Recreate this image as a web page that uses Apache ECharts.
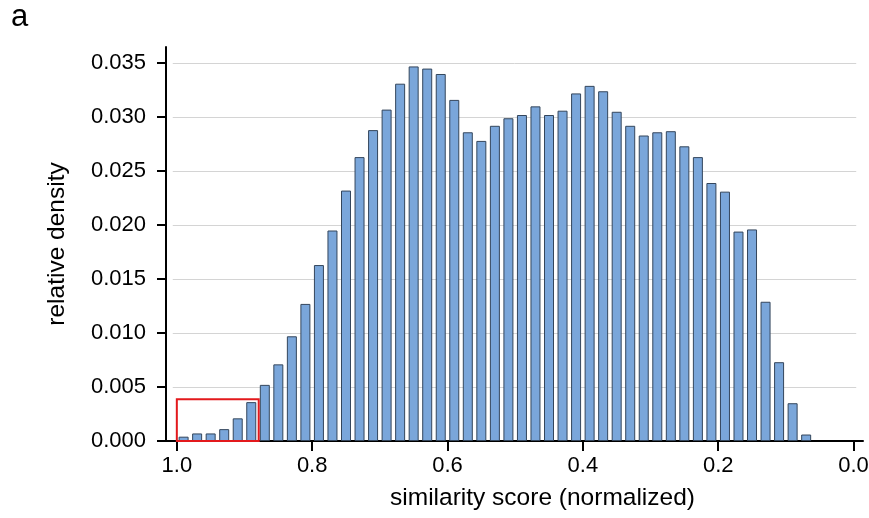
<!DOCTYPE html>
<html>
<head>
<meta charset="utf-8">
<script src="https://cdn.jsdelivr.net/npm/echarts@6/dist/echarts.min.js"></script>
<style>
  html, body { margin: 0; padding: 0; background: #fff; }
  #chart0 { width: 869px; height: 518px; }
</style>
</head>
<body>
<div id="chart0"></div>
<script>
// bin centres (normalized similarity score)
var binCenters = [0.99, 0.97, 0.95, 0.93, 0.91, 0.89, 0.87, 0.85, 0.83, 0.81,
	0.79, 0.77, 0.75, 0.73, 0.71, 0.69, 0.67, 0.65, 0.63, 0.61,
	0.59, 0.57, 0.55, 0.53, 0.51, 0.49, 0.47, 0.45, 0.43, 0.41,
	0.39, 0.37, 0.35, 0.33, 0.31, 0.29, 0.27, 0.25, 0.23, 0.21,
	0.19, 0.17, 0.15, 0.13, 0.11, 0.09, 0.07];

// relative density per bin
var density = [0.0004, 0.0007, 0.0007, 0.0011, 0.0021, 0.0036, 0.0052, 0.0071, 0.0097, 0.0127,
	0.0163, 0.0195, 0.0232, 0.0263, 0.0288, 0.0307, 0.0331, 0.0347, 0.0345, 0.0340,
	0.0316, 0.0286, 0.0278, 0.0292, 0.0299, 0.0302, 0.0310, 0.0302, 0.0306, 0.0322,
	0.0329, 0.0324, 0.0305, 0.0292, 0.0283, 0.0286, 0.0287, 0.0273, 0.0263, 0.0239,
	0.0231, 0.0194, 0.0196, 0.0129, 0.0073, 0.0035, 0.0006];

var xTicks = [1.0, 0.8, 0.6, 0.4, 0.2, 0.0];
var yTicks = [0.000, 0.005, 0.010, 0.015, 0.020, 0.025, 0.030, 0.035];

// highlighted region (red box) in data units
var boxX = [1.0, 0.879];
var boxY = [-0.0004, 0.00386];

var font = '"Liberation Sans", Arial, Helvetica, sans-serif';

var barData = binCenters.map(function(c, i) { return [c, density[i]]; });

var gridLines = yTicks.filter(function(v) { return v > 0; }).map(function(v) {
	return [{ coord: [1.006, v] }, { coord: [-0.004, v] }];
});

var chart = echarts.init(document.getElementById('chart0'), null, { renderer: 'canvas' });

chart.setOption({
	animation: false,
	backgroundColor: '#ffffff',
	textStyle: { fontFamily: font, color: '#000' },
	graphic: [{
		type: 'text',
		left: 11,
		top: 2,
		style: { text: 'a', fontSize: 31, fontFamily: font, fill: '#000' }
	}],
	grid: { left: 166, right: 6, top: 47, bottom: 77, containLabel: false, outerBoundsMode: 'none' },
	xAxis: {
		type: 'value',
		inverse: true,
		min: -0.014,
		max: 1.016,
		position: 'bottom',
		name: 'similarity score (normalized)',
		nameLocation: 'middle',
		nameGap: 45,
		// label sits a little right of the axis centre in the original
		nameTextStyle: { fontSize: 24.5, fontFamily: font, color: '#000', padding: [0, 0, 0, 56] },
		axisLine: { show: true, onZero: false, lineStyle: { color: '#000', width: 2 } },
		axisTick: { show: true, length: 10, lineStyle: { color: '#000', width: 2 }, customValues: xTicks },
		axisLabel: {
			customValues: xTicks,
			fontSize: 22, fontFamily: font, color: '#000', margin: 14,
			formatter: function(v) { return v.toFixed(1); }
		},
		splitLine: { show: false }
	},
	yAxis: {
		type: 'value',
		min: 0,
		max: 0.0365,
		position: 'left',
		name: 'relative density',
		nameLocation: 'middle',
		nameGap: 96,
		nameTextStyle: { fontSize: 24.5, fontFamily: font, color: '#000' },
		axisLine: { show: true, onZero: false, lineStyle: { color: '#000', width: 2 } },
		axisTick: { show: true, length: 9, lineStyle: { color: '#000', width: 2 }, customValues: yTicks },
		axisLabel: {
			customValues: yTicks,
			fontSize: 22, fontFamily: font, color: '#000', margin: 20,
			formatter: function(v) { return v.toFixed(3); }
		},
		splitLine: { show: false }
	},
	series: [{
		// horizontal guide lines behind the bars
		type: 'line',
		data: [],
		z: 1,
		silent: true,
		markLine: {
			z: 1,
			silent: true,
			symbol: ['none', 'none'],
			label: { show: false },
			lineStyle: { color: '#d4d4d4', width: 1, type: 'solid' },
			data: gridLines
		}
	}, {
		type: 'bar',
		data: barData,
		barWidth: 10,
		z: 3,
		clip: false,
		itemStyle: { color: '#7aa6da', borderColor: '#34465c', borderWidth: 1 },
		markArea: {
			silent: true,
			z: 4,
			itemStyle: { color: 'rgba(0,0,0,0)', borderColor: '#e3191c', borderWidth: 2 },
			data: [[{ coord: [boxX[0], boxY[0]] }, { coord: [boxX[1], boxY[1]] }]]
		}
	}]
});
</script>
</body>
</html>
